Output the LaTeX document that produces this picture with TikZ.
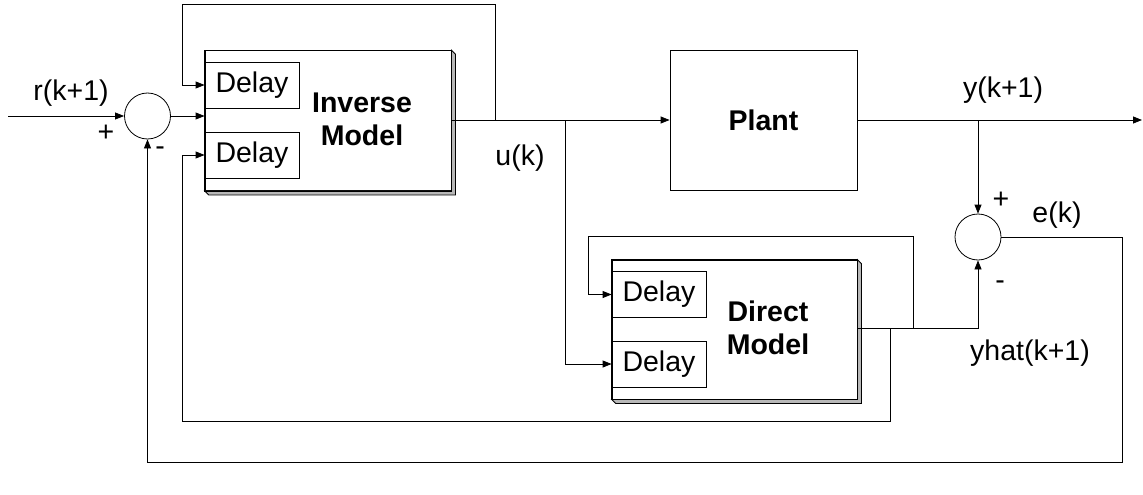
\documentclass[tikz,border=0pt]{standalone}
\usepackage{fontspec}
\setmainfont{Liberation Sans}
\newfontfamily\af{Liberation Sans}
\usetikzlibrary{arrows.meta,calc}
\begin{document}
\begin{tikzpicture}[x=1pt,y=-1pt,
  line width=0.8pt,
  every node/.style={font=\af\fontsize{28.5}{33}\selectfont},
  blk/.style={draw,fill=white,rectangle,inner sep=0pt},
  dly/.style={draw,fill=white,rectangle,inner sep=0pt,minimum width=94pt,minimum height=46pt},
  sumc/.style={draw,circle,inner sep=0pt,minimum size=46pt},
  lbl/.style={inner sep=0pt},
  bld/.style={inner sep=0pt,align=center,font=\af\bfseries\fontsize{28.5}{33}\selectfont},
  arr/.style={-{Triangle[length=9pt,width=7pt]}},
  shadowc/.style={fill=black!28,draw=black,line width=0.8pt}
]
\useasboundingbox (0,0) rectangle (1143,495);

% nodes
\node[sumc] (s1) at (147.5,116) {};
\node[blk,minimum width=246pt,minimum height=140pt] (inv) at (328,120.5) {};
\node[blk,minimum width=187pt,minimum height=140pt] (plant) at (763.5,120) {};
\node[sumc] (s2) at (978,237) {};
\node[blk,minimum width=245pt,minimum height=139pt] (dir) at (734.5,329.5) {};

% shadows
\draw[shadowc] (inv.north east) -- ++(4,4) -- ($(inv.south east)+(4,4)$) -- ($(inv.south west)+(4,4)$) -- (inv.south west) -- (inv.south east) -- cycle;
\draw[shadowc] (dir.north east) -- ++(4,4) -- ($(dir.south east)+(4,4)$) -- ($(dir.south west)+(4,4)$) -- (dir.south west) -- (dir.south east) -- cycle;
\draw (inv.south west) rectangle (inv.north east);
\draw (dir.south west) rectangle (dir.north east);

\node[dly] (d1) at (252,85) {Delay};
\node[dly] (d2) at (252,155) {Delay};
\node[dly] (dd1) at (659,294.5) {Delay};
\node[dly] (dd2) at (659,364) {Delay};

\node[bld] (invt) at (362,119) {Inverse\\Model};
\node[bld] (dirt) at (768,328) {Direct\\Model};
\node[bld] (plantt) at (763.5,120) {Plant};

% coordinates
\coordinate (in) at (8,116);
\coordinate (out) at (1142,120);
\coordinate (ub) at (495,120);
\coordinate (ub2) at (565,120);
\coordinate (yb) at (978,120);
\coordinate (db1) at (913,328);
\coordinate (db2) at (890,328);
\coordinate (ec) at (1122,237);

% connectors
\draw[arr] (in) -- (s1.west);
\draw[arr] (s1.east) -- (s1.east -| inv.west);
\draw[arr] (inv.east |- plant.west) -- (plant.west);
\draw[arr] (ub) -- (495,4) -- (182,4) |- (d1.west);
\draw[arr] (ub2) |- (dd2.west);
\draw[arr] (plant.east) -- (out);
\draw[arr] (yb) -- (s2.north);
\draw[arr] (dir.east |- db1) -| (s2.south);
\draw[arr] (db1) -- (913,236) -| (588,294.5) -- (dd1.west);
\draw[arr] (db2) -- (890,421) -| (182,155) -- (d2.west);
\draw[arr] (s2.east) -| (ec) |- (147.5,462) -- (s1.south);

% labels
\node[lbl] at (71,93) {r(k+1)};
\node[lbl] at (106,133) {+};
\node[lbl] at (160,151) {-};
\node[lbl] at (520,158) {u(k)};
\node[lbl] at (1003,90) {y(k+1)};
\node[lbl] at (1001,200) {+};
\node[lbl] at (1057,215) {e(k)};
\node[lbl] at (1000,285) {-};
\node[lbl] at (1030,353) {yhat(k+1)};
\end{tikzpicture}
\end{document}
